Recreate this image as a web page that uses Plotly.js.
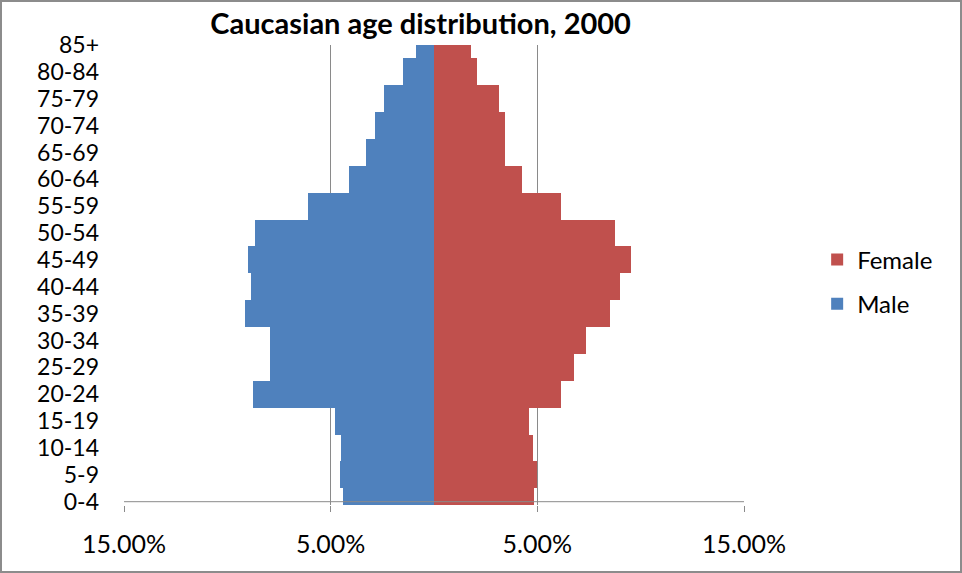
<!DOCTYPE html>
<html>
<head>
<meta charset="utf-8">
<script src="https://cdn.plot.ly/plotly-3.0.1.min.js"></script>
<style>
html,body{margin:0;padding:0;background:#fff;}
#chart{width:958px;height:569px;border:2px solid #8c8c8c;}
</style>
</head>
<body>
<div id="chart"></div>
<script>
// Data (percent of population)
const ageGroups = ["0-4","5-9","10-14","15-19","20-24","25-29","30-34","35-39","40-44","45-49","50-54","55-59","60-64","65-69","70-74","75-79","80-84","85+"];
const maleValues = [4.42,4.55,4.50,4.81,8.77,7.92,7.92,9.15,8.84,9.02,8.65,6.11,4.11,3.31,2.87,2.44,1.52,0.89];
const femaleValues = [4.85,5.00,4.79,4.61,6.16,6.79,7.34,8.52,9.02,9.52,8.77,6.16,4.24,3.44,3.44,3.16,2.06,1.81];
const xTickVals = [-15,-5,5,15];
const xTickText = ["15.00%","5.00%","5.00%","15.00%"];

const idx = ageGroups.map((_, i) => i);
const font = "Lato, 'Open Sans', sans-serif";

const traces = [
  {
    type: "bar", orientation: "h", name: "Female",
    y: idx, x: femaleValues, width: 1,
    marker: {color: "#C0504D", line: {width: 0}},
    legendgroup: "f", hoverinfo: "skip"
  },
  {
    type: "bar", orientation: "h", name: "Male",
    y: idx, x: maleValues.map(v => -v), width: 1,
    marker: {color: "#4F81BD", line: {width: 0}},
    legendgroup: "m", hoverinfo: "skip"
  }
];

const layout = {
  width: 958, height: 569,
  margin: {l: 122, r: 216, t: 43, b: 66},
  paper_bgcolor: "#ffffff", plot_bgcolor: "#ffffff",
  barmode: "relative", bargap: 0,
  title: {text: "<b>Caucasian age distribution, 2000</b>", font: {family: font, size: 29, color: "#000"}, x: 0.437, xanchor: "center", y: 0.962, yanchor: "middle"},
  font: {family: font, color: "#000"},
  xaxis: {
    range: [-15, 15], tickvals: xTickVals, ticktext: xTickText,
    showgrid: true, gridcolor: "#8a8a8a", gridwidth: 1,
    zeroline: false, showline: false,
    ticks: "outside", ticklen: 6, tickcolor: "#8a8a8a",
    tickfont: {family: font, size: 25, color: "#000"},
    ticklabelstandoff: 11, fixedrange: true
  },
  yaxis: {
    range: [-0.123, 17], tickvals: idx, ticktext: ageGroups,
    showgrid: false, zeroline: false, showline: false, ticks: "",
    tickfont: {family: font, size: 23, color: "#000"},
    ticklabelstandoff: 24, fixedrange: true
  },
  shapes: [
    {type: "line", xref: "x", yref: "y", x0: -15, x1: 15, y0: 0, y1: 0, line: {color: "#8a8a8a", width: 1}, layer: "above"}
  ],
  legend: {
    x: 1.118, xanchor: "left", y: 0.485, yanchor: "middle",
    traceorder: "grouped", tracegroupgap: 10,
    font: {family: font, size: 24, color: "#000"},
    itemwidth: 30
  },
  showlegend: true
};

Plotly.newPlot("chart", traces, layout, {displayModeBar: false, staticPlot: true});
</script>
</body>
</html>
